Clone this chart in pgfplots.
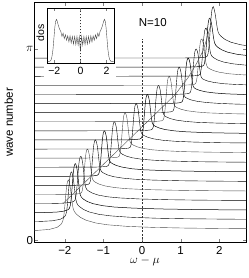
\documentclass[border=0pt]{standalone}
\usepackage{fontspec}
\setmainfont{Liberation Sans}
\usepackage{pgfplots}
\pgfplotsset{compat=1.18}
\begin{document}
\begin{tikzpicture}
\begin{axis}[name=main, scale only axis, width=212.4pt, height=240.7pt,
 xmin=-2.79, xmax=2.71, ymin=-1.29, ymax=25.17,
 xtick={-2,-1,0,1,2}, xticklabels={−2,−1,0,1,2},
 ytick={-1,20}, yticklabels={0,$\pi$},
 tick pos=both, tick align=inside, major tick length=4pt,
 tick label style={font=\fontsize{11.5}{13}\selectfont},
 xticklabel style={inner ysep=1pt, yshift=-2.8pt},
 yticklabel style={inner xsep=1pt},
 xlabel={$\omega-\mu$}, ylabel={wave number},
 label style={font=\fontsize{11.5}{13}\selectfont},
 xlabel style={at={(axis description cs:0.521,-0.085)}, anchor=base, inner sep=0pt},
 ylabel style={at={(axis description cs:-0.0838,0.5)}, anchor=south},
 cycle list={{black!70, solid, line width=0.5pt, mark=none}},
 axis line style={line width=0.5pt},
]
% n=0
\addplot coordinates {(-3.0,0.04) (-2.70,0.07) (-2.40,0.17) (-2.20,0.40) (-2.10,0.72) (-2.06,1.00) (-2.04,1.30) (-2.02,1.86) (-2.00,2.71) (-1.98,3.71) (-1.96,4.63) (-1.94,5.24) (-1.92,5.54) (-1.90,5.60) (-1.88,5.26) (-1.86,4.82) (-1.84,4.20) (-1.82,3.47) (-1.80,2.83) (-1.78,2.41) (-1.75,2.11) (-1.70,1.85) (-1.60,1.50) (-1.45,1.18) (-1.20,0.88) (-0.90,0.68) (-0.40,0.51) (0.30,0.39) (1.10,0.32) (2.10,0.27) (3.10,0.24)};
% n=1
\addplot coordinates {(-3.0,1.02) (-2.62,1.05) (-2.32,1.12) (-2.12,1.28) (-2.02,1.51) (-1.98,1.72) (-1.96,2.01) (-1.94,2.58) (-1.92,3.48) (-1.90,4.55) (-1.88,5.51) (-1.86,6.15) (-1.84,6.44) (-1.82,6.50) (-1.80,6.19) (-1.78,5.76) (-1.76,5.11) (-1.74,4.33) (-1.72,3.63) (-1.70,3.19) (-1.67,2.90) (-1.62,2.68) (-1.52,2.37) (-1.37,2.09) (-1.12,1.83) (-0.82,1.66) (-0.32,1.51) (0.38,1.40) (1.18,1.34) (2.18,1.30) (3.18,1.27)};
% n=2
\addplot coordinates {(-3.0,2.01) (-2.52,2.03) (-2.22,2.07) (-2.02,2.18) (-1.92,2.33) (-1.88,2.50) (-1.86,2.77) (-1.84,3.35) (-1.82,4.28) (-1.80,5.40) (-1.78,6.40) (-1.76,7.06) (-1.74,7.35) (-1.72,7.40) (-1.70,7.13) (-1.68,6.71) (-1.66,6.03) (-1.64,5.19) (-1.62,4.44) (-1.60,3.98) (-1.57,3.70) (-1.52,3.50) (-1.42,3.24) (-1.27,3.00) (-1.02,2.78) (-0.72,2.63) (-0.22,2.51) (0.48,2.42) (1.28,2.36) (2.28,2.32) (3.28,2.30)};
% n=3
\addplot coordinates {(-3.0,3.01) (-2.38,3.02) (-2.08,3.05) (-1.88,3.12) (-1.78,3.22) (-1.74,3.36) (-1.72,3.62) (-1.70,4.18) (-1.68,5.11) (-1.66,6.22) (-1.64,7.22) (-1.62,7.88) (-1.60,8.15) (-1.58,8.20) (-1.56,7.96) (-1.54,7.56) (-1.52,6.88) (-1.50,6.03) (-1.48,5.28) (-1.46,4.82) (-1.43,4.55) (-1.38,4.38) (-1.28,4.15) (-1.13,3.94) (-0.88,3.75) (-0.58,3.63) (-0.08,3.52) (0.62,3.44) (1.42,3.39) (2.42,3.36) (3.42,3.34)};
% n=4
\addplot coordinates {(-3.0,4.00) (-1.907,4.02) (-1.707,4.06) (-1.607,4.11) (-1.567,4.22) (-1.547,4.46) (-1.527,5.02) (-1.507,5.94) (-1.487,7.05) (-1.467,8.05) (-1.447,8.69) (-1.427,8.96) (-1.407,9.00) (-1.387,8.78) (-1.367,8.39) (-1.347,7.74) (-1.327,6.93) (-1.307,6.21) (-1.287,5.77) (-1.257,5.51) (-1.207,5.35) (-1.107,5.14) (-0.957,4.95) (-0.707,4.77) (-0.407,4.65) (0.093,4.55) (0.793,4.48) (1.593,4.43) (2.593,4.40) (3.593,4.38)};
% n=5
\addplot coordinates {(-3.0,5.00) (-1.701,5.02) (-1.501,5.06) (-1.401,5.11) (-1.361,5.22) (-1.341,5.46) (-1.321,6.02) (-1.301,6.94) (-1.281,8.05) (-1.261,9.05) (-1.241,9.69) (-1.221,9.96) (-1.201,10.00) (-1.181,9.78) (-1.161,9.40) (-1.141,8.76) (-1.121,7.94) (-1.101,7.23) (-1.081,6.79) (-1.051,6.53) (-1.001,6.38) (-0.901,6.17) (-0.751,5.98) (-0.501,5.81) (-0.201,5.69) (0.299,5.59) (0.999,5.52) (1.799,5.48) (2.799,5.45)};
% n=6
\addplot coordinates {(-3.0,6.00) (-1.467,6.02) (-1.267,6.06) (-1.167,6.11) (-1.127,6.22) (-1.107,6.46) (-1.087,7.02) (-1.067,7.94) (-1.047,9.05) (-1.027,10.05) (-1.007,10.69) (-0.987,10.96) (-0.967,11.00) (-0.947,10.78) (-0.927,10.41) (-0.907,9.77) (-0.887,8.96) (-0.867,8.24) (-0.847,7.81) (-0.817,7.55) (-0.767,7.40) (-0.667,7.20) (-0.517,7.02) (-0.267,6.84) (0.033,6.73) (0.533,6.64) (1.233,6.57) (2.033,6.53) (3.033,6.50)};
% n=7
\addplot coordinates {(-3.0,7.00) (-1.208,7.02) (-1.008,7.06) (-0.908,7.11) (-0.868,7.22) (-0.848,7.46) (-0.828,8.02) (-0.808,8.94) (-0.788,10.05) (-0.768,11.05) (-0.748,11.69) (-0.728,11.96) (-0.708,12.00) (-0.688,11.79) (-0.668,11.42) (-0.648,10.78) (-0.628,9.97) (-0.608,9.26) (-0.588,8.83) (-0.558,8.58) (-0.508,8.43) (-0.408,8.23) (-0.258,8.05) (-0.008,7.88) (0.292,7.78) (0.792,7.68) (1.492,7.61) (2.292,7.57) (3.292,7.54)};
% n=8
\addplot coordinates {(-3.0,8.00) (-0.932,8.02) (-0.732,8.06) (-0.632,8.11) (-0.592,8.22) (-0.572,8.46) (-0.552,9.02) (-0.532,9.94) (-0.512,11.05) (-0.492,12.05) (-0.472,12.69) (-0.452,12.96) (-0.432,13.00) (-0.412,12.79) (-0.392,12.43) (-0.372,11.79) (-0.352,10.99) (-0.332,10.28) (-0.312,9.84) (-0.282,9.60) (-0.232,9.45) (-0.132,9.26) (0.018,9.08) (0.268,8.92) (0.568,8.82) (1.068,8.72) (1.768,8.66) (2.568,8.62) (3.568,8.59)};
% n=9
\addplot coordinates {(-3.0,9.00) (-0.645,9.02) (-0.445,9.06) (-0.345,9.11) (-0.305,9.22) (-0.285,9.46) (-0.265,10.02) (-0.245,10.94) (-0.225,12.05) (-0.205,13.05) (-0.185,13.69) (-0.165,13.96) (-0.145,14.00) (-0.125,13.80) (-0.105,13.44) (-0.085,12.80) (-0.065,12.00) (-0.045,11.29) (-0.025,10.86) (0.005,10.62) (0.055,10.48) (0.155,10.29) (0.305,10.12) (0.555,9.96) (0.855,9.86) (1.355,9.77) (2.055,9.70) (2.855,9.67)};
% n=10
\addplot coordinates {(-3.0,10.00) (-0.355,10.02) (-0.155,10.06) (-0.055,10.11) (-0.015,10.22) (0.005,10.46) (0.025,11.02) (0.045,11.94) (0.065,13.05) (0.085,14.05) (0.105,14.69) (0.125,14.96) (0.145,15.00) (0.165,14.80) (0.185,14.44) (0.205,13.81) (0.225,13.02) (0.245,12.31) (0.265,11.88) (0.295,11.64) (0.345,11.50) (0.445,11.32) (0.595,11.15) (0.845,11.00) (1.145,10.90) (1.645,10.81) (2.345,10.75) (3.145,10.71)};
% n=11
\addplot coordinates {(-3.0,11.00) (-0.068,11.02) (0.132,11.06) (0.232,11.11) (0.272,11.22) (0.292,11.46) (0.312,12.02) (0.332,12.94) (0.352,14.05) (0.372,15.05) (0.392,15.69) (0.412,15.96) (0.432,16.00) (0.452,15.81) (0.472,15.45) (0.492,14.83) (0.512,14.03) (0.532,13.33) (0.552,12.90) (0.582,12.66) (0.632,12.53) (0.732,12.35) (0.882,12.19) (1.132,12.04) (1.432,11.94) (1.932,11.86) (2.632,11.80) (3.432,11.76)};
% n=12
\addplot coordinates {(-3.0,12.00) (0.208,12.02) (0.408,12.06) (0.508,12.11) (0.548,12.22) (0.568,12.46) (0.588,13.02) (0.608,13.94) (0.628,15.05) (0.648,16.05) (0.668,16.69) (0.688,16.96) (0.708,17.00) (0.728,16.81) (0.748,16.46) (0.768,15.84) (0.788,15.04) (0.808,14.34) (0.828,13.92) (0.858,13.68) (0.908,13.55) (1.008,13.38) (1.158,13.22) (1.408,13.08) (1.708,12.98) (2.208,12.90) (2.908,12.84)};
% n=13
\addplot coordinates {(-3.0,13.00) (0.467,13.02) (0.667,13.06) (0.767,13.11) (0.807,13.22) (0.827,13.46) (0.847,14.02) (0.867,14.94) (0.887,16.05) (0.907,17.05) (0.927,17.69) (0.947,17.96) (0.967,18.00) (0.987,17.82) (1.007,17.47) (1.027,16.85) (1.047,16.06) (1.067,15.36) (1.087,14.94) (1.117,14.70) (1.167,14.58) (1.267,14.41) (1.417,14.26) (1.667,14.12) (1.967,14.03) (2.467,13.94) (3.167,13.89)};
% n=14
\addplot coordinates {(-3.0,14.00) (0.701,14.02) (0.901,14.06) (1.001,14.11) (1.041,14.22) (1.061,14.46) (1.081,15.02) (1.101,15.94) (1.121,17.05) (1.141,18.05) (1.161,18.69) (1.181,18.96) (1.201,19.00) (1.221,18.82) (1.241,18.48) (1.261,17.86) (1.281,17.07) (1.301,16.38) (1.321,15.96) (1.351,15.73) (1.401,15.60) (1.501,15.44) (1.651,15.29) (1.901,15.16) (2.201,15.07) (2.701,14.99) (3.401,14.93)};
% n=15
\addplot coordinates {(-3.0,15.00) (0.907,15.02) (1.107,15.06) (1.207,15.11) (1.247,15.22) (1.267,15.46) (1.287,16.02) (1.307,16.94) (1.327,18.05) (1.347,19.05) (1.367,19.69) (1.387,19.96) (1.407,20.00) (1.427,19.83) (1.447,19.49) (1.467,18.87) (1.487,18.09) (1.507,17.39) (1.527,16.98) (1.557,16.75) (1.607,16.63) (1.707,16.47) (1.857,16.33) (2.107,16.19) (2.407,16.11) (2.907,16.03)};
% n=16
\addplot coordinates {(-3.0,16.00) (1.05,16.02) (1.25,16.06) (1.35,16.11) (1.39,16.22) (1.41,16.47) (1.43,17.04) (1.45,17.97) (1.47,19.11) (1.49,20.13) (1.51,20.78) (1.53,21.06) (1.55,21.10) (1.57,20.89) (1.59,20.55) (1.61,19.97) (1.63,19.24) (1.65,18.60) (1.67,18.21) (1.70,17.97) (1.75,17.83) (1.85,17.63) (2.00,17.45) (2.25,17.28) (2.55,17.18) (3.05,17.08)};
% n=17
\addplot coordinates {(-3.0,17.00) (1.16,17.02) (1.36,17.06) (1.46,17.11) (1.50,17.22) (1.52,17.48) (1.54,18.07) (1.56,19.05) (1.58,20.23) (1.60,21.29) (1.62,21.97) (1.64,22.26) (1.66,22.30) (1.68,22.06) (1.70,21.70) (1.72,21.13) (1.74,20.44) (1.76,19.83) (1.78,19.45) (1.81,19.20) (1.86,19.03) (1.96,18.79) (2.11,18.57) (2.36,18.37) (2.66,18.24) (3.16,18.13)};
% n=18
\addplot coordinates {(-3.0,18.00) (1.26,18.02) (1.46,18.06) (1.56,18.11) (1.60,18.23) (1.62,18.49) (1.64,19.09) (1.66,20.09) (1.68,21.29) (1.70,22.37) (1.72,23.06) (1.74,23.35) (1.76,23.40) (1.78,23.12) (1.80,22.76) (1.82,22.22) (1.84,21.58) (1.86,21.02) (1.88,20.66) (1.91,20.41) (1.96,20.20) (2.06,19.92) (2.21,19.66) (2.46,19.42) (2.76,19.27) (3.26,19.13)};
% n=19
\addplot coordinates {(-3.0,19.00) (1.35,19.02) (1.55,19.06) (1.65,19.11) (1.69,19.23) (1.71,19.50) (1.73,20.14) (1.75,21.18) (1.77,22.44) (1.79,23.57) (1.81,24.30) (1.83,24.60) (1.85,24.65) (1.87,24.33) (1.89,23.94) (1.91,23.41) (1.93,22.79) (1.95,22.24) (1.97,21.88) (2.00,21.61) (2.05,21.38) (2.15,21.05) (2.30,20.75) (2.55,20.47) (2.85,20.29)};
% dispersion line
\addplot coordinates {(-2.05,3.0) (0.85,14.95) (1.2,16.9) (1.41,18.4) (1.58,19.8) (1.71,21.6) (1.80,23.0)};
% omega = 0
\addplot[black!80, line width=0.4pt, dash pattern=on 2pt off 1.5pt] coordinates {(0,-1.3) (0,21.1)};
\fill[white] (axis cs:-2.527,16.59) rectangle (axis cs:-0.683,18.45);
\node[font=\fontsize{11.5}{13}\selectfont] at (axis cs:0.278,22.9) {N=10};
\coordinate (insetNW) at (axis cs:-2.442,24.47);
\coordinate (mSW) at (rel axis cs:0,0);
\coordinate (mNE) at (rel axis cs:1,1);
\end{axis}
\begin{axis}[at={(insetNW)}, anchor=north west,
 scale only axis, width=66.7pt, height=55pt,
 xmin=-2.5, xmax=2.6, ymin=0, ymax=1,
 xtick={-2,0,2}, xticklabels={−2,0,2}, ytick=\empty,
 tick pos=both, tick align=inside, major tick length=3pt,
 tick label style={font=\fontsize{10.5}{12}\selectfont},
 ylabel={dos},
 ylabel style={at={(axis description cs:0,0.56)}, anchor=south, font=\fontsize{10.5}{12}\selectfont},
 axis background/.style={fill=white},
 axis line style={line width=0.5pt},
 cycle list={{black!70, solid, line width=0.5pt, mark=none}},
]
\addplot coordinates {(-2.5,0.03) (-2.35,0.035) (-2.25,0.06) (-2.18,0.12) (-2.1,0.25) (-2.03,0.45) (-1.96,0.65) (-1.9,0.76) (-1.84,0.80) (-1.78,0.77) (-1.7,0.70) (-1.62,0.64) (-1.55,0.60)
 (-1.5,0.58) (-1.412,0.49) (-1.324,0.55) (-1.235,0.45) (-1.147,0.52) (-1.059,0.42) (-0.971,0.50) (-0.882,0.39) (-0.794,0.50) (-0.706,0.37) (-0.618,0.49) (-0.529,0.35) (-0.441,0.49) (-0.353,0.34) (-0.265,0.49) (-0.176,0.33) (-0.088,0.49) (0,0.22)
 (0.088,0.49) (0.176,0.33) (0.265,0.49) (0.353,0.34) (0.441,0.49) (0.529,0.35) (0.618,0.49) (0.706,0.37) (0.794,0.50) (0.882,0.39) (0.971,0.50) (1.059,0.42) (1.147,0.52) (1.235,0.45) (1.324,0.55) (1.412,0.49) (1.5,0.58)
 (1.55,0.60) (1.62,0.64) (1.7,0.70) (1.78,0.77) (1.84,0.80) (1.9,0.76) (1.96,0.65) (2.03,0.45) (2.1,0.25) (2.18,0.12) (2.25,0.06) (2.35,0.035) (2.5,0.03) (2.6,0.03)};
\addplot[black!80, line width=0.4pt, dash pattern=on 1.5pt off 1.5pt] coordinates {(0,0) (0,1)};
\end{axis}
\pgfresetboundingbox
\path[use as bounding box] ([xshift=-34.3pt,yshift=-35.3pt]mSW) rectangle ([xshift=2.3pt,yshift=2pt]mNE);
\end{tikzpicture}
\end{document}
